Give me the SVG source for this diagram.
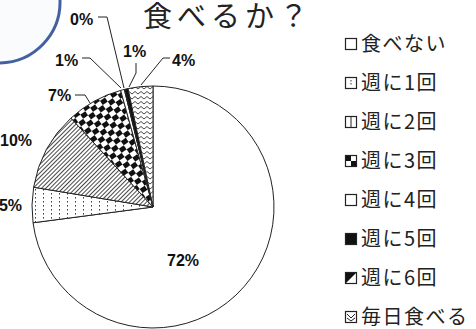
<svg xmlns="http://www.w3.org/2000/svg" width="476" height="329" viewBox="0 0 476 329">
<style>
.lbl{font-family:"Liberation Sans",Arial,sans-serif;font-weight:bold;font-size:16px;fill:#111}
.leg{font-family:"Noto Sans CJK JP","Noto Sans",sans-serif;font-size:20px;fill:#222;letter-spacing:1.5px}
.ttl{font-family:"Noto Sans CJK JP","Noto Sans",sans-serif;font-size:29px;fill:#222;letter-spacing:5px}
.sl{stroke:#222;stroke-width:1}
.ld{fill:none;stroke:#222;stroke-width:1}
.bx{fill:#fff;stroke:#222;stroke-width:1.2}
</style>
<defs>
<pattern id="dots" width="8" height="4" patternUnits="userSpaceOnUse">
<rect width="8" height="4" fill="#fff"/>
<rect x="3" y="1" width="1" height="1.6" fill="#444"/>
</pattern>
<pattern id="hatch" width="3" height="3" patternUnits="userSpaceOnUse" patternTransform="rotate(45)">
<rect width="3" height="3" fill="#fff"/>
<line x1="0.5" y1="0" x2="0.5" y2="3" stroke="#333" stroke-width="0.9"/>
</pattern>
<pattern id="check" width="12" height="10" patternUnits="userSpaceOnUse" patternTransform="rotate(-35)">
<rect width="12" height="10" fill="#fff"/>
<rect x="0" y="0" width="6" height="5" fill="#111"/>
<rect x="6" y="5" width="6" height="5" fill="#111"/>
</pattern>
<pattern id="zig" width="6" height="5" patternUnits="userSpaceOnUse">
<rect width="6" height="5" fill="#fff"/>
<polyline points="0,4 3,1.5 6,4" fill="none" stroke="#333" stroke-width="0.9"/>
</pattern>
</defs>
<rect width="476" height="329" fill="#fff"/>
<g id="deco">
<path d="M0,63 A61,61 0 0 0 60,0 L0,0 Z" fill="#fafbfd"/>
<path d="M0,63 A61,61 0 0 0 60,0" fill="none" stroke="#44619f" stroke-width="3"/>
</g>
<g id="title"><text class="ttl" x="143" y="27">食べるか？</text></g>
<g id="pie">
<path id="s72" class="sl" fill="#fff" d="M153,207 L153,86 A121,121 0 1 1 33.04,222.79 Z"/>
<path id="s5" class="sl" fill="url(#dots)" d="M153,207 L33.04,222.79 A121,121 0 0 1 33.63,187.24 Z"/>
<path id="s10" class="sl" fill="url(#hatch)" d="M153,207 L33.63,187.24 A121,121 0 0 1 70.94,118.08 Z"/>
<path id="s7" class="sl" fill="url(#check)" d="M153,207 L70.94,118.08 A121,121 0 0 1 120.66,90.40 Z"/>
<path id="s1a" class="sl" fill="#fff" d="M153,207 L120.66,90.40 A121,121 0 0 1 124.34,89.44 Z"/>
<path id="s0" class="sl" fill="#111" d="M153,207 L124.34,89.44 A121,121 0 0 1 124.96,89.29 Z"/>
<path id="s1b" class="sl" fill="#111" d="M153,207 L124.96,89.29 A121,121 0 0 1 128.05,88.60 Z"/>
<path id="s4" class="sl" fill="url(#zig)" d="M153,207 L128.05,88.60 A121,121 0 0 1 153,86 Z"/>
</g>
<g id="connectors">
<polyline class="ld" points="98,17 107,17 124,88"/>
<polyline class="ld" points="136,63 136,73 129,87"/>
<polyline class="ld" points="170,58 163,58 141,85"/>
<polyline class="ld" points="82,58 90,58 121,88"/>
<polyline class="ld" points="75,95 85,95 90,103"/>
</g>
<g id="labels">
<text class="lbl" x="70" y="25">0%</text>
<text class="lbl" x="123" y="57">1%</text>
<text class="lbl" x="172" y="66">4%</text>
<text class="lbl" x="55" y="66">1%</text>
<text class="lbl" x="48" y="101">7%</text>
<text class="lbl" x="0" y="146">10%</text>
<text class="lbl" x="22" y="211" text-anchor="end">5%</text>
<text class="lbl" x="167" y="266">72%</text>
</g>
<g id="legend">
<g id="leg0"><rect class="bx" x="345.5" y="38.5" width="11" height="11"/><text class="leg" x="361" y="51">食べない</text></g>
<g id="leg1"><rect class="bx" x="345.5" y="77.5" width="11" height="11"/><line x1="351" y1="80" x2="351" y2="86" stroke="#333" stroke-width="1" stroke-dasharray="1.5,1.5"/><text class="leg" x="361" y="90">週に1回</text></g>
<g id="leg2"><rect class="bx" x="345.5" y="116.5" width="11" height="11"/><line x1="351" y1="117" x2="351" y2="127" stroke="#222" stroke-width="1"/><text class="leg" x="361" y="129">週に2回</text></g>
<g id="leg3"><rect class="bx" x="345.5" y="155.5" width="11" height="11"/><rect x="346" y="156" width="5" height="5" fill="#111"/><rect x="351" y="161" width="5" height="5" fill="#111"/><text class="leg" x="361" y="168">週に3回</text></g>
<g id="leg4"><rect class="bx" x="345.5" y="194.5" width="11" height="11"/><text class="leg" x="361" y="207">週に4回</text></g>
<g id="leg5"><rect x="345.5" y="233.5" width="11" height="11" fill="#111" stroke="#222" stroke-width="1.2"/><text class="leg" x="361" y="246">週に5回</text></g>
<g id="leg6"><rect class="bx" x="345.5" y="272.5" width="11" height="11"/><polygon points="346,273 356,273 346,283" fill="#111"/><text class="leg" x="361" y="285">週に6回</text></g>
<g id="leg7"><rect class="bx" x="345.5" y="311.5" width="11" height="11"/><polyline points="347,314 351,318 355,314" fill="none" stroke="#222" stroke-width="1"/><polyline points="347,318 351,321 355,318" fill="none" stroke="#222" stroke-width="1"/><text class="leg" x="361" y="324">毎日食べる</text></g>
</g>
</svg>
